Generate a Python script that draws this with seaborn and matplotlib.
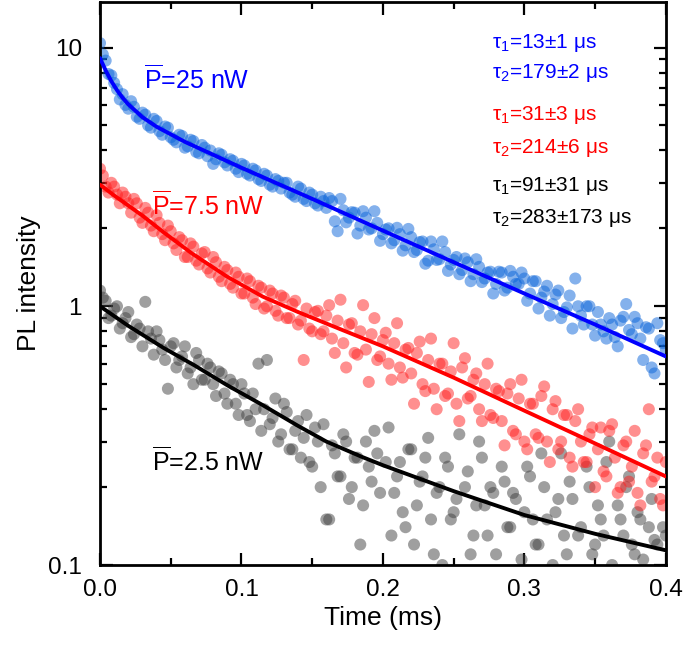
import numpy as np
import pandas as pd
import matplotlib
matplotlib.use("Agg")
import matplotlib.pyplot as plt
import seaborn as sns

sns.set_theme(style="ticks")
plt.rcParams["font.family"] = ["Liberation Sans", "DejaVu Sans"]
plt.rcParams["mathtext.fontset"] = "custom"
plt.rcParams["mathtext.rm"] = "Liberation Sans"
plt.rcParams["mathtext.it"] = "Liberation Sans:italic"
plt.rcParams["text.color"] = "black"
plt.rcParams["axes.labelcolor"] = "black"
plt.rcParams["xtick.color"] = "black"
plt.rcParams["ytick.color"] = "black"

# measured PL decay, two interleaved sets of time bins (microseconds)
time_a_us = [0, 4, 8, 12, 16, 20, 24, 28, 32, 36, 40, 44, 48, 52, 56, 60, 64, 68, 72, 76,
             80, 84, 88, 92, 96, 100, 104, 108, 112, 116, 120, 124, 128, 132, 136, 140, 144, 148, 152, 156,
             160, 164, 168, 172, 176, 180, 184, 188, 192, 196, 200, 204, 208, 212, 216, 220, 224, 228, 232, 236,
             240, 244, 248, 252, 256, 260, 264, 268, 272, 276, 280, 284, 288, 292, 296, 300, 304, 308, 312, 316,
             320, 324, 328, 332, 336, 340, 344, 348, 352, 356, 360, 364, 368, 372, 376, 380, 384, 388, 392, 396, 400]
time_b_us = [2, 6, 10, 14, 18, 22, 26, 30, 34, 38, 42, 46, 50, 54, 58, 62, 66, 70, 74, 78,
             82, 86, 90, 94, 98, 102, 106, 110, 114, 118, 122, 126, 130, 134, 138, 142, 146, 150, 154, 158,
             162, 166, 170, 174, 178, 182, 186, 190, 194, 198, 202, 206, 210, 214, 218, 222, 226, 230, 234, 238,
             242, 246, 250, 254, 258, 262, 266, 270, 274, 278, 282, 286, 290, 294, 298, 302, 306, 310, 314, 318,
             322, 326, 330, 334, 338, 342, 346, 350, 354, 358, 362, 366, 370, 374, 378, 382, 386, 390, 394, 398]

pl_25nw_a = [10.4, 8.9, 7.8, 6.9, 6.6, 5.8, 5.9, 5.3, 5.5, 4.9, 5.2, 4.6, 4.9, 4.4, 4.6, 4.1, 4.4, 3.95, 4.2, 3.8,
             3.55, 3.9, 3.6, 3.7, 3.4, 3.55, 3.25, 3.4, 3.1, 3.25, 2.95, 3.1, 2.85, 3.0, 2.7, 2.9, 2.6, 2.75, 2.5, 2.65,
             2.4, 2.55, 1.95, 2.35, 2.2, 2.3, 2.05, 2.2, 2.0, 2.1, 1.9, 2.0, 1.8, 1.9, 1.72, 1.85, 1.65, 1.78, 1.5, 1.66,
             1.52, 1.62, 1.45, 1.55, 1.38, 1.48, 1.33, 1.42, 1.28, 1.36, 1.22, 1.35, 1.18, 1.3, 1.22, 1.28, 1.12, 1.25, 1.08, 1.2,
             1.02, 1.15, 0.95, 1.1, 1.28, 0.92, 1.0, 0.85, 0.95, 0.8, 0.9, 0.76, 0.88, 1.02, 0.78, 0.86, 0.62, 0.82, 0.55, 0.74, 0.68]
pl_25nw_b = [9.4, 7.9, 7.3, 6.3, 6.0, 6.2, 5.4, 5.6, 5.0, 5.3, 4.75, 4.95, 4.5, 4.3, 4.55, 4.15, 4.35, 3.9, 4.1, 4.0,
             3.7, 3.85, 3.5, 3.65, 3.3, 3.5, 3.2, 3.35, 3.05, 3.2, 2.9, 3.05, 3.0, 2.75, 2.65, 2.85, 2.55, 2.7, 2.45, 2.55,
             2.62, 2.13, 2.6, 2.11, 2.31, 1.91, 2.33, 1.98, 2.33, 1.79, 1.98, 1.75, 2.01, 1.64, 1.99, 1.62, 1.77, 1.46, 1.78, 1.51,
             1.78, 1.37, 1.51, 1.33, 1.53, 1.25, 1.52, 1.24, 1.35, 1.12, 1.36, 1.15, 1.37, 1.22, 1.35, 1.05, 1.25, 0.98, 1.14, 0.92,
             1.11, 0.9, 0.99, 0.82, 1.0, 0.85, 1.0, 0.77, 0.85, 0.75, 0.85, 0.7, 0.91, 0.81, 0.91, 0.75, 0.83, 0.58, 0.86, 0.72]

pl_7p5nw_a = [3.4, 2.9, 3.0, 2.7, 2.75, 2.5, 2.6, 2.2, 2.4, 2.05, 2.25, 1.9, 2.05, 1.75, 1.85, 1.55, 1.75, 1.5, 1.6, 1.4,
              1.55, 1.3, 1.42, 1.22, 1.35, 1.12, 1.28, 1.08, 1.2, 0.98, 1.15, 0.96, 1.1, 0.9, 1.02, 0.85, 0.62, 0.82, 0.95, 0.78,
              0.92, 0.75, 0.88, 0.72, 0.85, 0.66, 0.8, 0.68, 0.78, 0.62, 0.74, 0.6, 0.72, 0.58, 0.68, 0.55, 0.66, 0.5, 0.62, 0.48,
              0.6, 0.45, 0.56, 0.42, 0.58, 0.44, 0.52, 0.4, 0.5, 0.38, 0.48, 0.36, 0.46, 0.33, 0.44, 0.3, 0.42, 0.32, 0.45, 0.3,
              0.4, 0.28, 0.38, 0.26, 0.36, 0.3, 0.25, 0.34, 0.28, 0.23, 0.33, 0.26, 0.2, 0.3, 0.24, 0.19, 0.27, 0.4, 0.22, 0.18, 0.25]
pl_7p5nw_b = [3.2, 2.75, 2.9, 2.5, 2.65, 2.3, 2.5, 2.1, 2.3, 1.95, 2.1, 1.8, 1.95, 1.65, 1.8, 1.55, 1.7, 1.45, 1.62, 1.35,
              1.48, 1.25, 1.38, 1.18, 1.3, 1.12, 1.25, 1.02, 1.18, 1.0, 1.12, 0.92, 1.08, 0.9, 1.05, 0.88, 0.98, 0.8, 0.96, 0.8,
              1.01, 0.66, 1.06, 0.58, 0.86, 0.65, 1.01, 0.51, 0.9, 0.64, 0.79, 0.52, 0.86, 0.53, 0.69, 0.42, 0.73, 0.47, 0.75, 0.4,
              0.6, 0.46, 0.72, 0.36, 0.63, 0.45, 0.55, 0.36, 0.6, 0.37, 0.47, 0.29, 0.5, 0.32, 0.52, 0.28, 0.42, 0.31, 0.49, 0.25,
              0.43, 0.3, 0.38, 0.24, 0.4, 0.25, 0.32, 0.2, 0.34, 0.22, 0.35, 0.19, 0.29, 0.21, 0.33, 0.17, 0.29, 0.21, 0.26, 0.17]

pl_2p5nw_a = [1.15, 1.05, 0.92, 1.0, 0.86, 0.95, 0.78, 0.82, 1.04, 0.75, 0.8, 0.68, 0.48, 0.72, 0.62, 0.7, 0.58, 0.66, 0.52, 0.6,
              0.5, 0.56, 0.46, 0.52, 0.42, 0.5, 0.38, 0.46, 0.6, 0.4, 0.35, 0.44, 0.32, 0.39, 0.28, 0.36, 0.31, 0.25, 0.34, 0.2,
              0.15, 0.29, 0.22, 0.32, 0.18, 0.26, 0.12, 0.3, 0.21, 0.27, 0.095, 0.34, 0.19, 0.25, 0.14, 0.28, 0.17, 0.22, 0.31, 0.11,
              0.2, 0.26, 0.15, 0.18, 0.085, 0.23, 0.13, 0.3, 0.17, 0.2, 0.11, 0.24, 0.14, 0.19, 0.09, 0.16, 0.22, 0.12, 0.27, 0.15,
              0.1, 0.18, 0.13, 0.21, 0.08, 0.14, 0.24, 0.11, 0.17, 0.13, 0.3, 0.095, 0.15, 0.2, 0.12, 0.16, 0.105, 0.14, 0.125, 0.09, 0.13]
pl_2p5nw_b = [1.08, 0.9, 0.98, 0.82, 0.9, 0.76, 0.85, 0.7, 0.8, 0.65, 0.74, 0.62, 0.7, 0.58, 0.64, 0.55, 0.5, 0.62, 0.52, 0.58,
              0.45, 0.55, 0.42, 0.5, 0.38, 0.46, 0.36, 0.4, 0.33, 0.62, 0.37, 0.3, 0.42, 0.28, 0.33, 0.26, 0.38, 0.24, 0.3, 0.35,
              0.15, 0.27, 0.22, 0.3, 0.2, 0.26, 0.17, 0.24, 0.33, 0.19, 0.25, 0.13, 0.22, 0.16, 0.28, 0.12, 0.21, 0.26, 0.15, 0.19,
              0.1, 0.24, 0.16, 0.32, 0.2, 0.11, 0.17, 0.26, 0.13, 0.19, 0.088, 0.21, 0.14, 0.18, 0.105, 0.24, 0.15, 0.12, 0.2, 0.095,
              0.16, 0.27, 0.11, 0.18, 0.13, 0.09, 0.2, 0.12, 0.15, 0.25, 0.1, 0.17, 0.13, 0.22, 0.11, 0.15, 0.095, 0.18, 0.12, 0.14]

# biexponential fit curves (time in us)
fit_25_t = [0, 4, 8, 12, 16, 20, 30, 40, 60, 80, 100, 150, 200, 250, 300, 350, 400]
fit_25_v = [9.1, 8.15, 7.41, 6.84, 6.39, 6.03, 5.38, 4.94, 4.32, 3.85, 3.43, 2.6, 1.96, 1.48, 1.12, 0.85, 0.64]
fit_7p5_t = [0, 10, 20, 30, 45, 65, 90, 115, 140, 170, 200, 250, 300, 350, 400]
fit_7p5_v = [2.95, 2.68, 2.45, 2.24, 1.93, 1.6, 1.3, 1.09, 0.95, 0.815, 0.70, 0.53, 0.395, 0.295, 0.22]
fit_2p5_t = [0, 20, 45, 67, 90, 115, 140, 160, 185, 200, 250, 300, 350, 400]
fit_2p5_v = [1.0, 0.84, 0.69, 0.59, 0.495, 0.415, 0.345, 0.30, 0.262, 0.243, 0.193, 0.156, 0.132, 0.114]

labels = ["2.5 nW", "7.5 nW", "25 nW"]
point_colors = {"25 nW": "#0a64da", "7.5 nW": "#ff2020", "2.5 nW": "#404040"}
line_colors = {"25 nW": "#0000ff", "7.5 nW": "#ff0000", "2.5 nW": "#000000"}

t_all = np.array(time_a_us + time_b_us) / 1000
pts = pd.concat([
    pd.DataFrame({"time": t_all, "pl": pl_2p5nw_a + pl_2p5nw_b, "power": "2.5 nW"}),
    pd.DataFrame({"time": t_all, "pl": pl_7p5nw_a + pl_7p5nw_b, "power": "7.5 nW"}),
    pd.DataFrame({"time": t_all, "pl": pl_25nw_a + pl_25nw_b, "power": "25 nW"}),
])
fits = pd.concat([
    pd.DataFrame({"time": np.array(fit_2p5_t) / 1000, "pl": fit_2p5_v, "power": "2.5 nW"}),
    pd.DataFrame({"time": np.array(fit_7p5_t) / 1000, "pl": fit_7p5_v, "power": "7.5 nW"}),
    pd.DataFrame({"time": np.array(fit_25_t) / 1000, "pl": fit_25_v, "power": "25 nW"}),
])

fig, ax = plt.subplots(figsize=(6.85, 6.45), dpi=100)
fig.subplots_adjust(left=0.146, right=0.972, bottom=0.124, top=0.997)

sns.scatterplot(data=pts, x="time", y="pl", hue="power", hue_order=labels, palette=point_colors,
                s=75, alpha=0.5, edgecolor="none", legend=False, ax=ax, zorder=2)
sns.lineplot(data=fits, x="time", y="pl", hue="power", hue_order=labels, palette=line_colors,
             estimator=None, linewidth=2.8, legend=False, ax=ax, zorder=3)

ax.set_yscale("log")
ax.set_xlim(0, 0.4)
ax.set_ylim(0.1, 15)
ax.set_xticks([0, 0.1, 0.2, 0.3, 0.4], ["0.0", "0.1", "0.2", "0.3", "0.4"])
ax.set_xticks([0.05, 0.15, 0.25, 0.35], minor=True)
ax.set_yticks([0.1, 1, 10], ["0.1", "1", "10"])
ax.tick_params(which="both", direction="in", top=True, right=True, width=1.6, labelsize=17.5)
ax.tick_params(axis="y", pad=13)
ax.tick_params(axis="x", pad=10)
ax.tick_params(which="major", length=9)
ax.tick_params(which="minor", length=5)
for sp in ax.spines.values():
    sp.set_linewidth(2)
    sp.set_color("black")

ax.set_xlabel("Time (ms)", fontsize=19, labelpad=4)
ax.set_ylabel("PL intensity", fontsize=19, labelpad=5)

ax.text(0.031, 6.95, r"$\overline{\mathrm{P}}$=25 nW", color="#0000ff", fontsize=18)
ax.text(0.0365, 2.26, r"$\overline{\mathrm{P}}$=7.5 nW", color="#ff0000", fontsize=18)
ax.text(0.0365, 0.232, r"$\overline{\mathrm{P}}$=2.5 nW", color="black", fontsize=18)

tau_text = [
    (0.918, r"$\mathrm{\tau_1}$=13±1 μs", "#0000ff"),
    (0.865, r"$\mathrm{\tau_2}$=179±2 μs", "#0000ff"),
    (0.791, r"$\mathrm{\tau_1}$=31±3 μs", "#ff0000"),
    (0.732, r"$\mathrm{\tau_2}$=214±6 μs", "#ff0000"),
    (0.665, r"$\mathrm{\tau_1}$=91±31 μs", "black"),
    (0.608, r"$\mathrm{\tau_2}$=283±173 μs", "black"),
]
for ypos, txt, col in tau_text:
    ax.text(0.693, ypos, txt, color=col, fontsize=15, transform=ax.transAxes)

fig.savefig("out.png", dpi=100)
